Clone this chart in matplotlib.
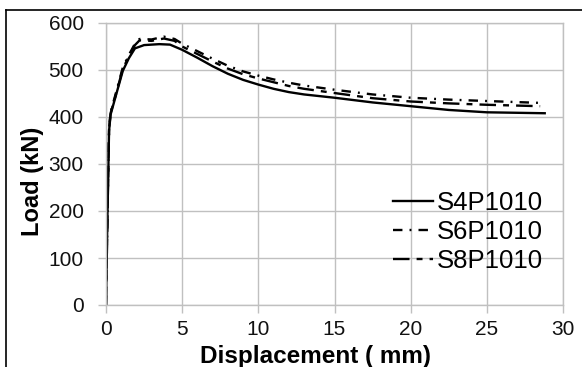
import matplotlib
matplotlib.use("Agg")
import matplotlib.pyplot as plt
from matplotlib.lines import Line2D

plt.rcParams['font.family'] = ['Liberation Sans', 'DejaVu Sans']

# Data
s4_x = [0, 0.1, 0.2, 0.3, 0.6, 1.1, 1.5, 1.9, 2.5, 3.5, 4.2, 5, 6, 7, 8, 9, 10, 11, 12, 13,
        15, 17.5, 20, 22.5, 25, 28.8]
s4_y = [0, 200, 370, 405, 440, 498, 525, 546, 553, 555, 554, 543, 526, 508, 492, 479, 469, 460, 453, 448,
        441, 431, 423, 415, 410, 408]

s6_x = [0, 0.1, 0.2, 0.3, 0.6, 1.1, 1.5, 1.9, 2.2, 3, 3.8, 4.5, 5, 6, 7, 8, 9, 10, 11, 12, 13,
        15, 17.5, 20, 22.5, 25, 28.5]
s6_y = [0, 200, 375, 410, 445, 505, 532, 556, 566, 565, 571, 566, 556, 540, 524, 509, 497, 488, 480, 473, 467,
        458, 448, 441, 437, 434, 430]

s8_x = [0, 0.1, 0.2, 0.3, 0.6, 1.1, 1.5, 1.9, 2.2, 3, 3.8, 4.5, 5, 6, 7, 8, 9, 10, 11, 12, 13,
        15, 17.5, 20, 22.5, 25, 28.5]
s8_y = [0, 200, 372, 408, 442, 502, 529, 553, 563, 562, 567, 562, 550, 534, 518, 503, 491, 482, 474, 466, 460,
        451, 440, 433, 429, 426, 423]

labels = ["S4P1010", "S6P1010", "S8P1010"]
x_ticks = [0, 5, 10, 15, 20, 25, 30]
y_ticks = [0, 100, 200, 300, 400, 500, 600]

W, H = 582, 367
fig = plt.figure(figsize=(W / 100, H / 100), dpi=100)
ax = fig.add_axes([106 / W, 1 - 305 / H, (563 - 106) / W, (305 - 23) / H])

grid_c = '#c0c0c0'
lw = 1.7
ax.plot(s4_x, s4_y, color='black', lw=lw, linestyle='-', label=labels[0])
ax.plot(s6_x, s6_y, color='black', lw=lw, linestyle=(0, (4, 3, 0.8, 3)), label=labels[1])
ax.plot(s8_x, s8_y, color='black', lw=lw, linestyle=(0, (7, 3, 2.5, 3)), label=labels[2])

ax.set_xlim(0, 30)
ax.set_ylim(0, 600)
ax.set_xticks(x_ticks)
ax.set_yticks(y_ticks)
ax.grid(True, color=grid_c, lw=1.0)
ax.set_axisbelow(True)
for s in ax.spines.values():
    s.set_color(grid_c)
    s.set_linewidth(1.0)
ax.tick_params(axis='both', direction='out', length=6, width=1.0, color=grid_c,
               labelsize=15, labelcolor='#111111')
ax.tick_params(axis='y', pad=10)
ax.tick_params(axis='x', pad=5)

fig.text(316 / W, 1 - 356 / H, "Displacement ( mm)", fontsize=17.5, fontweight='bold',
         ha='center', va='center')
fig.text(32 / W, 1 - 181 / H, "Load (kN)", fontsize=17, fontweight='bold',
         ha='center', va='center', rotation=90)

leg = ax.legend(loc='center left', bbox_to_anchor=((393 - 106) / 457, (305 - 232) / 282),
                frameon=False, fontsize=18.5, handlelength=1.55, handletextpad=0.15,
                labelspacing=0.18, borderpad=0, borderaxespad=0)

# outer frame lines (top and left)
fig.add_artist(Line2D([6 / W, 1], [1 - 10 / H, 1 - 10 / H], color='black', lw=1.2,
                      transform=fig.transFigure))
fig.add_artist(Line2D([6 / W, 6 / W], [0, 1 - 10 / H], color='black', lw=1.2,
                      transform=fig.transFigure))

fig.savefig("out.png", dpi=100)
